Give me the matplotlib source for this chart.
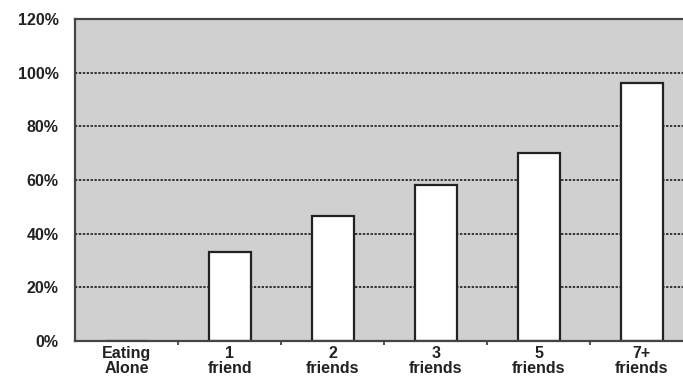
import matplotlib.pyplot as plt
import numpy as np

categories = ["Eating\nAlone", "1\nfriend", "2\nfriends", "3\nfriends", "5\nfriends", "7+\nfriends"]
values = [0, 33, 46.5, 58, 70, 96]
yticks = [0, 20, 40, 60, 80, 100, 120]
ytick_labels = ["0%", "20%", "40%", "60%", "80%", "100%", "120%"]

plt.rcParams['font.family'] = ['Liberation Sans', 'DejaVu Sans']

fig = plt.figure(figsize=(6.83, 3.83), dpi=100)
ax = fig.add_axes([0.11, 0.11, 0.905, 0.84])
ax.set_facecolor("#d0d0d0")

x = np.arange(len(categories))
ax.set_axisbelow(True)
ax.yaxis.grid(True, linestyle=(0, (1.2, 0.8)), color="#333333", linewidth=1.4)
ax.bar(x, values, width=0.41, color="white", edgecolor="#222222", linewidth=1.6)

ax.set_xlim(-0.5, len(categories) - 0.5)
ax.set_ylim(0, 120)
ax.set_yticks(yticks)
ax.set_yticklabels(ytick_labels, fontsize=11.5, fontweight="bold", color="#222222")
ax.set_xticks(x)
ax.set_xticklabels(categories, fontsize=11.5, fontweight="bold", color="#222222", linespacing=1.0)
ax.set_xticks(x[:-1] + 0.5, minor=True)
ax.tick_params(axis="x", which="major", length=0, pad=4)
ax.tick_params(axis="x", which="minor", length=3, width=1.2, color="#333333", direction="out")
ax.tick_params(axis="y", length=0, pad=12)

for side in ["left", "top", "bottom"]:
    ax.spines[side].set_color("#444444")
    ax.spines[side].set_linewidth(1.6)
ax.spines["right"].set_visible(False)

fig.savefig("out.png", dpi=100, facecolor="white")
